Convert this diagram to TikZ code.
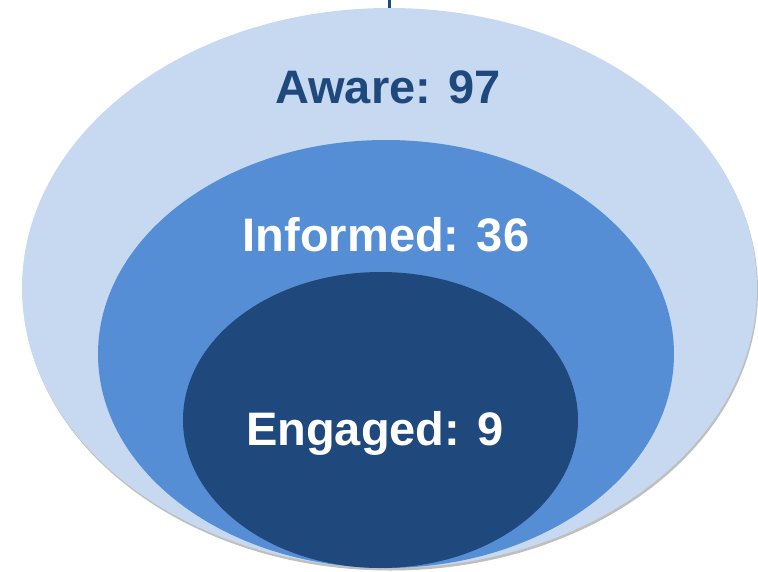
\documentclass[tikz,border=0pt]{standalone}
\usepackage{fontspec}
\setmainfont{Liberation Sans}
\usepackage{tikz}
\usetikzlibrary{shapes.geometric, shadows}
\definecolor{awareblue}{HTML}{C6D9F1}
\definecolor{informblue}{HTML}{558ED5}
\definecolor{engageblue}{HTML}{1F497D}

\begin{document}
\begin{tikzpicture}[x=1pt, y=-1pt,
    ring/.style={ellipse, inner sep=0pt, outer sep=0pt},
    label/.style={font=\fontsize{47}{50}\selectfont\bfseries, anchor=base, inner sep=0pt}]
    \useasboundingbox (0,0) rectangle (758,571);

    % Nested ellipses
    \node[ring, fill=awareblue, minimum width=735pt, minimum height=560pt,
          drop shadow={shadow xshift=1pt, shadow yshift=-2.5pt, opacity=0.25, fill=black}]
          (aware) at (389.5,288) {};
    \node[ring, fill=informblue, minimum width=576pt, minimum height=428pt] (informed) at (386,354) {};
    \node[ring, fill=engageblue, minimum width=395pt, minimum height=296pt] (engaged) at (380.5,420) {};

    % Stub at the top
    \coordinate (topend) at (389.5,0);
    \draw[engageblue, line width=3.5pt] (aware.north) -- (topend);

    % Labels
    \node[label, text=engageblue] (awaretext) at (388,103) {Aware: 97};
    \node[label, text=white] (informedtext) at (386,251) {Informed: 36};
    \node[label, text=white] (engagedtext) at (375,445) {Engaged: 9};
\end{tikzpicture}
\end{document}
